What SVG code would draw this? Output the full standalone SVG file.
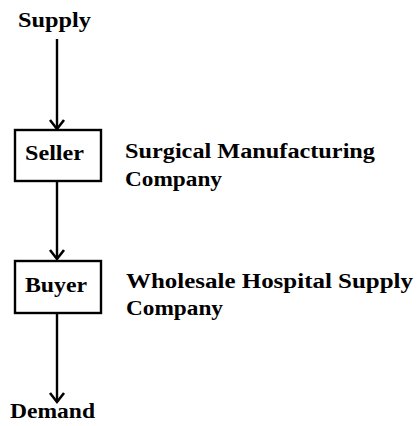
<svg xmlns="http://www.w3.org/2000/svg" width="418" height="426" viewBox="0 0 418 426">
  <style>
    .lbl { font-family: "Liberation Serif", "Times New Roman", serif; font-weight: bold; font-size: 21px; fill: #000; }
    .side { font-size: 20px; }
    .box { fill: #fff; stroke: #000; stroke-width: 2.4; }
    .flow { fill: none; stroke: #000; stroke-width: 2.4; }
    .head { fill: none; stroke: #000; stroke-width: 2.6; stroke-linejoin: miter; }
  </style>
  <rect width="418" height="426" fill="#fff"/>

  <g id="connectors">
    <line class="flow" x1="57" y1="39" x2="57" y2="129"/>
    <path class="head" d="M50 120 L57 129 L64 120"/>
    <line class="flow" x1="57" y1="181" x2="57" y2="259"/>
    <path class="head" d="M50 250 L57 259 L64 250"/>
    <line class="flow" x1="57" y1="313" x2="57" y2="402"/>
    <path class="head" d="M50 393 L57 402 L64 393"/>
  </g>

  <g id="supply">
    <text class="lbl" x="18" y="27" textLength="73" lengthAdjust="spacingAndGlyphs">Supply</text>
  </g>

  <g id="seller">
    <rect class="box" x="15" y="130" width="86" height="51"/>
    <text class="lbl" x="25" y="160" textLength="59" lengthAdjust="spacingAndGlyphs">Seller</text>
  </g>

  <g id="seller-label">
    <text class="lbl side" x="125" y="158" textLength="250" lengthAdjust="spacingAndGlyphs">Surgical Manufacturing</text>
    <text class="lbl side" x="125" y="186" textLength="97" lengthAdjust="spacingAndGlyphs">Company</text>
  </g>

  <g id="buyer">
    <rect class="box" x="15" y="261" width="86" height="52"/>
    <text class="lbl" x="25" y="292" textLength="62" lengthAdjust="spacingAndGlyphs">Buyer</text>
  </g>

  <g id="buyer-label">
    <text class="lbl side" x="126" y="288" textLength="287" lengthAdjust="spacingAndGlyphs">Wholesale Hospital Supply</text>
    <text class="lbl side" x="126" y="315" textLength="97" lengthAdjust="spacingAndGlyphs">Company</text>
  </g>

  <g id="demand">
    <text class="lbl" x="10" y="418" textLength="85" lengthAdjust="spacingAndGlyphs">Demand</text>
  </g>
</svg>
